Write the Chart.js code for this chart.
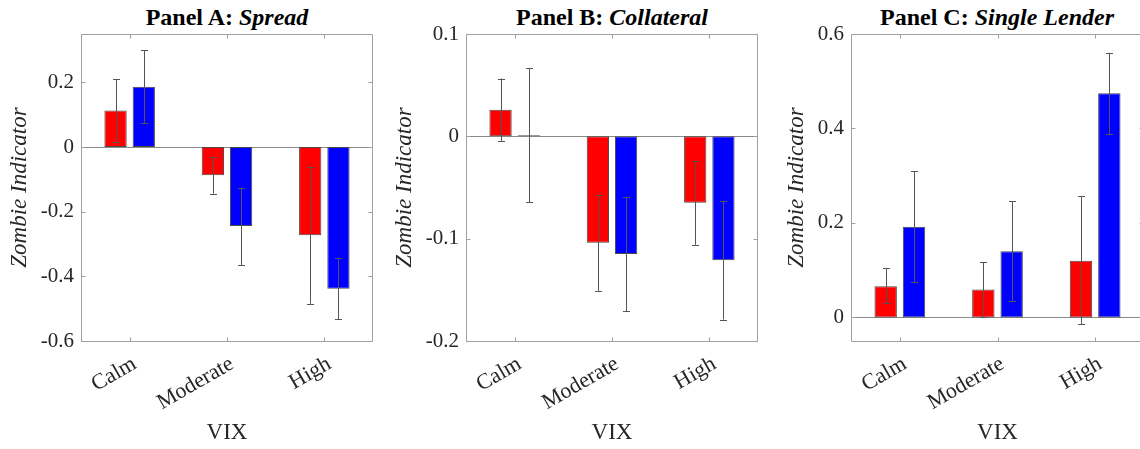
<!DOCTYPE html>
<html>
<head>
<meta charset="utf-8">
<script src="https://cdn.jsdelivr.net/npm/chart.js@4.4.1/dist/chart.umd.min.js"></script>
<style>
  html, body { margin: 0; padding: 0; background: #fff; overflow: hidden; width: 1140px; height: 449px; }
  canvas { position: absolute; top: 0; }
  .ttl { position: absolute; top: 5px; width: 320px; text-align: center; font-family: "Liberation Serif", serif;
         font-size: 24px; line-height: 24px; font-weight: bold; color: #000; white-space: nowrap; }
</style>
</head>
<body>
<div class="ttl" id="tA" style="left:67px">Panel A: <i>Spread</i></div>
<div class="ttl" id="tB" style="left:452px">Panel B: <i>Collateral</i></div>
<div class="ttl" id="tC" style="left:837px">Panel C: <i>Single Lender</i></div>
<canvas id="cA" width="380" height="449" style="left:0px"></canvas>
<canvas id="cB" width="380" height="449" style="left:380px"></canvas>
<canvas id="cC" width="400" height="449" style="left:760px"></canvas>
<script>
// ---- data ----
const categories = ['Calm', 'Moderate', 'High'];

const spreadRed    = [0.113, -0.087, -0.273];
const spreadRedLo  = [0.017, -0.144, -0.485];
const spreadRedHi  = [0.210, -0.031, -0.063];
const spreadBlue   = [0.187, -0.244, -0.438];
const spreadBlueLo = [0.074, -0.365, -0.532];
const spreadBlueHi = [0.300, -0.125, -0.343];
const spreadTicks  = [-0.6, -0.4, -0.2, 0, 0.2];

const collRed    = [0.026, -0.104, -0.065];
const collRedLo  = [-0.0045, -0.151, -0.106];
const collRedHi  = [0.0565, -0.0574, -0.0243];
const collBlue   = [0.001, -0.115, -0.121];
const collBlueLo = [-0.0646, -0.171, -0.179];
const collBlueHi = [0.0666, -0.0594, -0.063];
const collTicks  = [-0.2, -0.1, 0, 0.1];

const singleRed    = [0.066, 0.059, 0.120];
const singleRedLo  = [0.030, 0.000, -0.014];
const singleRedHi  = [0.104, 0.117, 0.257];
const singleBlue   = [0.192, 0.140, 0.4745];
const singleBlueLo = [0.074, 0.034, 0.388];
const singleBlueHi = [0.310, 0.2457, 0.560];
const singleTicks  = [0, 0.2, 0.4, 0.6];

// ---- helpers ----
const FONT = '"Liberation Serif", "Times New Roman", serif';
const fmt = v => { const n = Number(v.toFixed(3)); return n === 0 ? '0' : String(n); };

const boxPlugin = {
  id: 'box',
  beforeDatasetsDraw(chart) {
    const {ctx, chartArea: a, scales: {y}} = chart;
    const y0 = Math.round(y.getPixelForValue(0)) + 0.5;
    ctx.save();
    ctx.strokeStyle = '#8a8a8a';
    ctx.lineWidth = 1;
    ctx.beginPath(); ctx.moveTo(a.left, y0); ctx.lineTo(a.right, y0); ctx.stroke();
    ctx.restore();
  },
  afterDatasetsDraw(chart) {
    const {ctx, scales: {y}} = chart;
    ctx.save();
    ctx.strokeStyle = '#555555';
    ctx.lineWidth = 1;
    chart.data.datasets.forEach((ds, di) => {
      const meta = chart.getDatasetMeta(di);
      meta.data.forEach((bar, i) => {
        const cx = Math.round(bar.x) + 0.5;
        const yl = y.getPixelForValue(ds.errLo[i]);
        const yh = y.getPixelForValue(ds.errHi[i]);
        ctx.beginPath();
        ctx.moveTo(cx, yl); ctx.lineTo(cx, yh);
        ctx.moveTo(cx - 3.5, Math.round(yl) + 0.5); ctx.lineTo(cx + 3.5, Math.round(yl) + 0.5);
        ctx.moveTo(cx - 3.5, Math.round(yh) + 0.5); ctx.lineTo(cx + 3.5, Math.round(yh) + 0.5);
        ctx.stroke();
      });
    });
    ctx.restore();
  },
  afterDraw(chart) {
    const {ctx, chartArea: a, scales: {x, y}} = chart;
    const L = Math.round(a.left) + 0.5, R = Math.round(a.right) - 0.5;
    const T = Math.round(a.top) + 0.5, B = Math.round(a.bottom) + 0.5;
    ctx.save();
    ctx.strokeStyle = '#a0a0a0';
    ctx.lineWidth = 1;
    ctx.beginPath();
    ctx.moveTo(L, T); ctx.lineTo(R, T); ctx.lineTo(R, B); ctx.lineTo(L, B); ctx.closePath();
    const tl = 4;
    y.ticks.forEach(t => {
      const py = Math.round(y.getPixelForValue(t.value)) + 0.5;
      ctx.moveTo(L, py); ctx.lineTo(L + tl, py);
      ctx.moveTo(R, py); ctx.lineTo(R - tl, py);
    });
    x.ticks.forEach((t, i) => {
      const px = Math.round(x.getPixelForValue(i)) + 0.5;
      ctx.moveTo(px, B); ctx.lineTo(px, B - tl);
      ctx.moveTo(px, T); ctx.lineTo(px, T + tl);
    });
    ctx.stroke();
    ctx.restore();
  }
};

function makeChart(id, red, redLo, redHi, blue, blueLo, blueHi, yMin, yMax, yTicks, yWidth, padRight, yTitlePad) {
  return new Chart(document.getElementById(id), {
    type: 'bar',
    data: {
      labels: categories,
      datasets: [
        { data: red, errLo: redLo, errHi: redHi, backgroundColor: '#ff0000', borderColor: '#4a4a4a',
          borderWidth: 1, borderSkipped: false, categoryPercentage: 0.58, barPercentage: 0.79 },
        { data: blue, errLo: blueLo, errHi: blueHi, backgroundColor: '#0000ff', borderColor: '#4a4a4a',
          borderWidth: 1, borderSkipped: false, categoryPercentage: 0.58, barPercentage: 0.79 }
      ]
    },
    options: {
      responsive: false,
      animation: false,
      devicePixelRatio: 1,
      layout: { padding: { left: 0, right: padRight, top: 34, bottom: 0 } },
      plugins: { legend: { display: false }, title: { display: false }, tooltip: { enabled: false } },
      scales: {
        x: {
          grid: { display: false, drawTicks: false },
          border: { display: false },
          ticks: { autoSkip: false, minRotation: 30, maxRotation: 30, padding: 10, labelOffset: 5,
                   color: '#262626', font: { family: FONT, size: 22 } },
          title: { display: true, text: 'VIX', color: '#262626', font: { family: FONT, size: 23 },
                   padding: { top: 0, bottom: 2 } },
          afterFit: s => { s.height = 108; s.paddingLeft = 0; s.paddingRight = 0; }
        },
        y: {
          min: yMin, max: yMax,
          afterBuildTicks: s => { s.ticks = yTicks.map(v => ({ value: v })); },
          grid: { display: false, drawTicks: false },
          border: { display: false },
          ticks: { padding: 7, color: '#262626', font: { family: FONT, size: 21 }, callback: v => fmt(v) },
          title: { display: true, text: 'Zombie Indicator', color: '#262626',
                   font: { family: FONT, size: 23, style: 'italic' }, padding: { top: yTitlePad, bottom: 0 } },
          afterFit: s => { s.width = yWidth; }
        }
      }
    },
    plugins: [boxPlugin]
  });
}

makeChart('cA', spreadRed, spreadRedLo, spreadRedHi, spreadBlue, spreadBlueLo, spreadBlueHi,
          -0.6, 0.35, spreadTicks, 81, 7, 6);
makeChart('cB', collRed, collRedLo, collRedHi, collBlue, collBlueLo, collBlueHi,
          -0.2, 0.1, collTicks, 86, 2, 11);
makeChart('cC', singleRed, singleRedLo, singleRedHi, singleBlue, singleBlueLo, singleBlueHi,
          -0.05, 0.6, singleTicks, 91, 16, 23);
</script>
</body>
</html>
